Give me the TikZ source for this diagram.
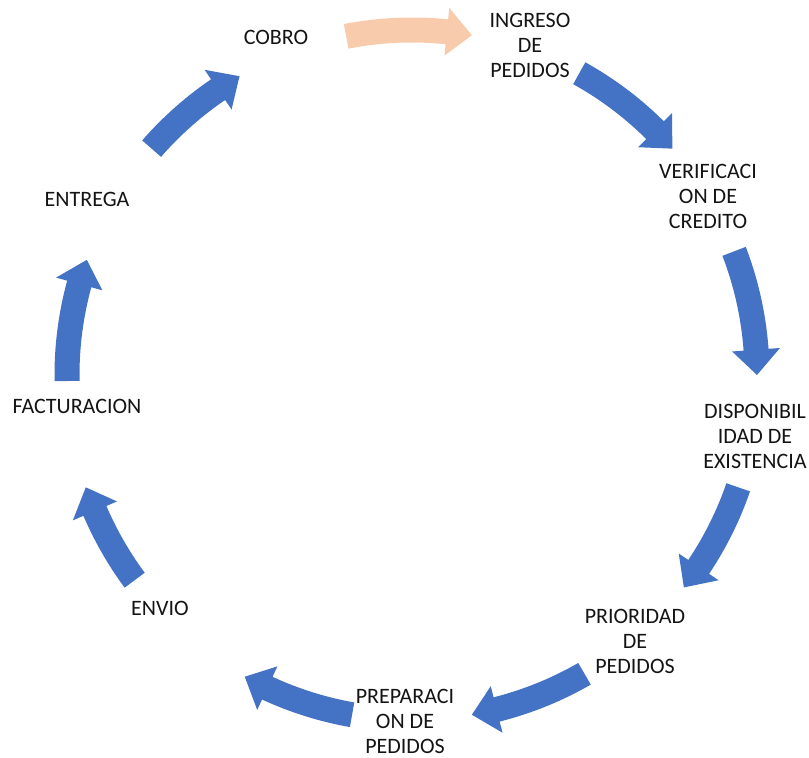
\documentclass[tikz,border=0pt]{standalone}
\usepackage{fontspec}
\setmainfont{Carlito}
\definecolor{stepblue}{RGB}{68,114,196}
\definecolor{steppeach}{RGB}{248,203,173}
\definecolor{steptext}{RGB}{20,20,20}
\tikzset{
  stage/.style={align=center, text=steptext, inner sep=0pt,
    font=\fontsize{22}{25}\selectfont},
  cyclearrow/.style={fill=stepblue, draw=none},
  firstarrow/.style={fill=steppeach, draw=none},
}
% curved block arrow around the centre, running clockwise from angle #2 to angle #3
% #1 = style
\newcommand{\cyclearrowshape}[3]{%
  \pgfmathsetmacro{\neck}{#3+4.2}%
  \fill[#1] (#2:357.5) arc[start angle=#2, end angle=\neck, radius=357.5]
    -- (\neck:369) -- (#3:345) -- (\neck:321) -- (\neck:332.5)
    arc[start angle=\neck, end angle=#2, radius=332.5] -- cycle;}
\begin{document}
\begin{tikzpicture}[x=1pt,y=1pt]
  \useasboundingbox (0,0) rectangle (809,758);
  % stages (positions in picture coordinates, y measured upward)
  \node[stage] (cobro)  at (276,721) {COBRO};
  \node[stage] (ingreso) at (530,713) {INGRESO\\DE\\PEDIDOS};
  \node[stage] (verif)  at (708,562) {VERIFICACI\\ON DE\\CREDITO};
  \node[stage] (dispo)  at (755,322) {DISPONIBIL\\IDAD DE\\EXISTENCIA};
  \node[stage] (prio)   at (635,117) {PRIORIDAD\\DE\\PEDIDOS};
  \node[stage] (prep)   at (405,37)  {PREPARACI\\ON DE\\PEDIDOS};
  \node[stage] (envio)  at (160,150) {ENVIO};
  \node[stage] (fact)   at (77,352)  {FACTURACION};
  \node[stage] (entrega) at (87,559) {ENTREGA};
  % arrows on the ring between the stages
  \begin{scope}[shift={(412,383)}]
    \cyclearrowshape{firstarrow}{101}{80}
    \cyclearrowshape{cyclearrow}{61}{41}
    \cyclearrowshape{cyclearrow}{21}{0}
    \cyclearrowshape{cyclearrow}{-19}{-38}
    \cyclearrowshape{cyclearrow}{-60}{-80}
    \cyclearrowshape{cyclearrow}{-100}{-119}
    \cyclearrowshape{cyclearrow}{-143.5}{-161}
    \cyclearrowshape{cyclearrow}{-179}{-199.5}
    \cyclearrowshape{cyclearrow}{-221}{-240}
  \end{scope}
\end{tikzpicture}
\end{document}
